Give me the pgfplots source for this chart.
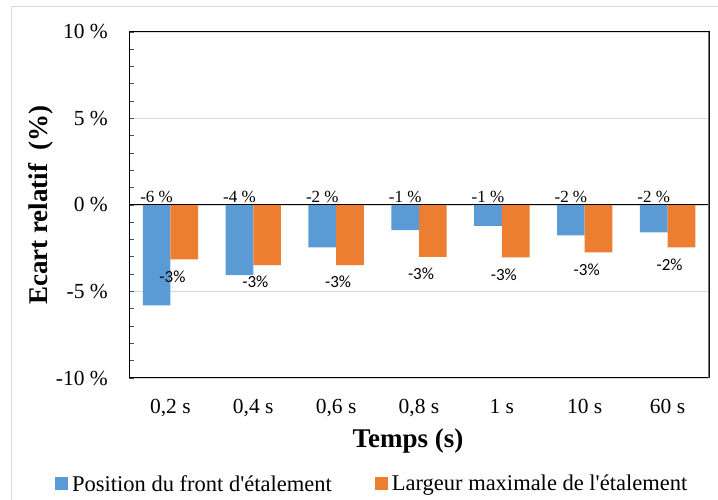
\documentclass[border=0pt]{standalone}
\usepackage{fontspec}
\setmainfont{Liberation Serif}
\newfontfamily\lblfont{Carlito}
\usepackage{pgfplots}
\pgfplotsset{compat=1.18}
\definecolor{cblue}{RGB}{91,155,213}
\definecolor{corange}{RGB}{237,125,49}
\definecolor{bordergray}{RGB}{217,217,217}
\definecolor{gridgray}{RGB}{217,217,217}
\begin{document}
\begin{tikzpicture}[x=1bp,y=1bp]
\useasboundingbox (0,0) rectangle (718,500);
\draw[bordergray, line width=1bp] (11,-5) rectangle (730,493);
\begin{axis}[
  at={(129bp,122bp)}, anchor=south west,
  scale only axis, width=580bp, height=346bp,
  xmin=-0.5, xmax=6.5, ymin=-10, ymax=10,
  xtick={0,1,2,3,4,5,6},
  xticklabels={{0,2 s},{0,4 s},{0,6 s},{0,8 s},{1 s},{10 s},{60 s}},
  x tick style={draw=none},
  ytick={-10,-5,0,5,10},
  yticklabels={{-10 \%},{-5 \%},{0 \%},{5 \%},{10 \%}},
  ytick pos=left,
  minor y tick num=4,
  y tick style={black!70, line width=0.8bp},
  tick align=inside, major tick length=5bp, minor tick length=5bp,
  ymajorgrids, major grid style={gridgray, line width=0.9bp},
  axis line style={black, line width=1bp},
  xticklabel style={font=\fontsize{21.5bp}{25bp}\selectfont, anchor=base, yshift=-36bp},
  yticklabel style={font=\fontsize{21.5bp}{25bp}\selectfont, anchor=east, inner sep=0pt, xshift=-21bp},
  xlabel={\textbf{Temps (s)}},
  xlabel style={font=\fontsize{27bp}{31bp}\selectfont, at={(axis description cs:0.481,0)}, anchor=center, yshift=-63.5bp},
  ylabel={\textbf{Ecart relatif\ \ (\%)}},
  ylabel style={font=\fontsize{27bp}{31bp}\selectfont, at={(axis description cs:0,0.5)}, anchor=center, yshift=88bp},
  legend columns=2,
  legend style={draw=none, fill=none, at={(axis description cs:-0.1276,-0.306)}, anchor=west,
    font=\fontsize{22.5bp}{26bp}\selectfont, inner sep=0pt,
    nodes={inner sep=0pt},
    /tikz/every odd column/.append style={column sep=4bp},
    /tikz/every even column/.append style={column sep=43bp}},
  legend cell align=left,
]
\addplot[ybar, bar width=0.334, bar shift=-0.167, fill=cblue, draw=none,
  legend image code/.code={\fill[cblue] (0bp,-6.5bp) rectangle (13bp,6.5bp);}]
  coordinates {(0,-5.8) (1,-4.05) (2,-2.45) (3,-1.45) (4,-1.2) (5,-1.75) (6,-1.58)};
\addlegendentry{Position du front d\textquotesingle étalement}
\addplot[ybar, bar width=0.334, bar shift=0.167, fill=corange, draw=none,
  legend image code/.code={\fill[corange] (0bp,-6.5bp) rectangle (13bp,6.5bp);},
  nodes near coords, point meta=explicit symbolic,
  every node near coord/.append style={anchor=north, inner sep=0pt, yshift=-11bp, xshift=2bp, font=\lblfont\fontsize{17bp}{20bp}\selectfont, text=black}]
  coordinates {(0,-3.14) [-3\%] (1,-3.47) [-3\%] (2,-3.47) [-3\%] (3,-3.0) [-3\%] (4,-3.03) [-3\%] (5,-2.74) [-3\%] (6,-2.45) [-2\%]};
\addlegendentry{Largeur maximale de l\textquotesingle étalement}
\addplot[draw=none, mark=none, forget plot, nodes near coords, point meta=explicit symbolic,
  every node near coord/.append style={anchor=base, inner sep=0pt, yshift=2.5bp, font=\fontsize{17bp}{20bp}\selectfont, text=black}]
  coordinates {(-0.167,0) [-6 \%] (0.833,0) [-4 \%] (1.833,0) [-2 \%] (2.833,0) [-1 \%] (3.833,0) [-1 \%] (4.833,0) [-2 \%] (5.833,0) [-2 \%]};
\draw[black, line width=1bp] (axis cs:-0.5,0) -- (axis cs:6.5,0);
\draw[black!55, line width=1.2bp] (rel axis cs:1,0) -- (rel axis cs:1,1);
\end{axis}
\end{tikzpicture}
\end{document}
